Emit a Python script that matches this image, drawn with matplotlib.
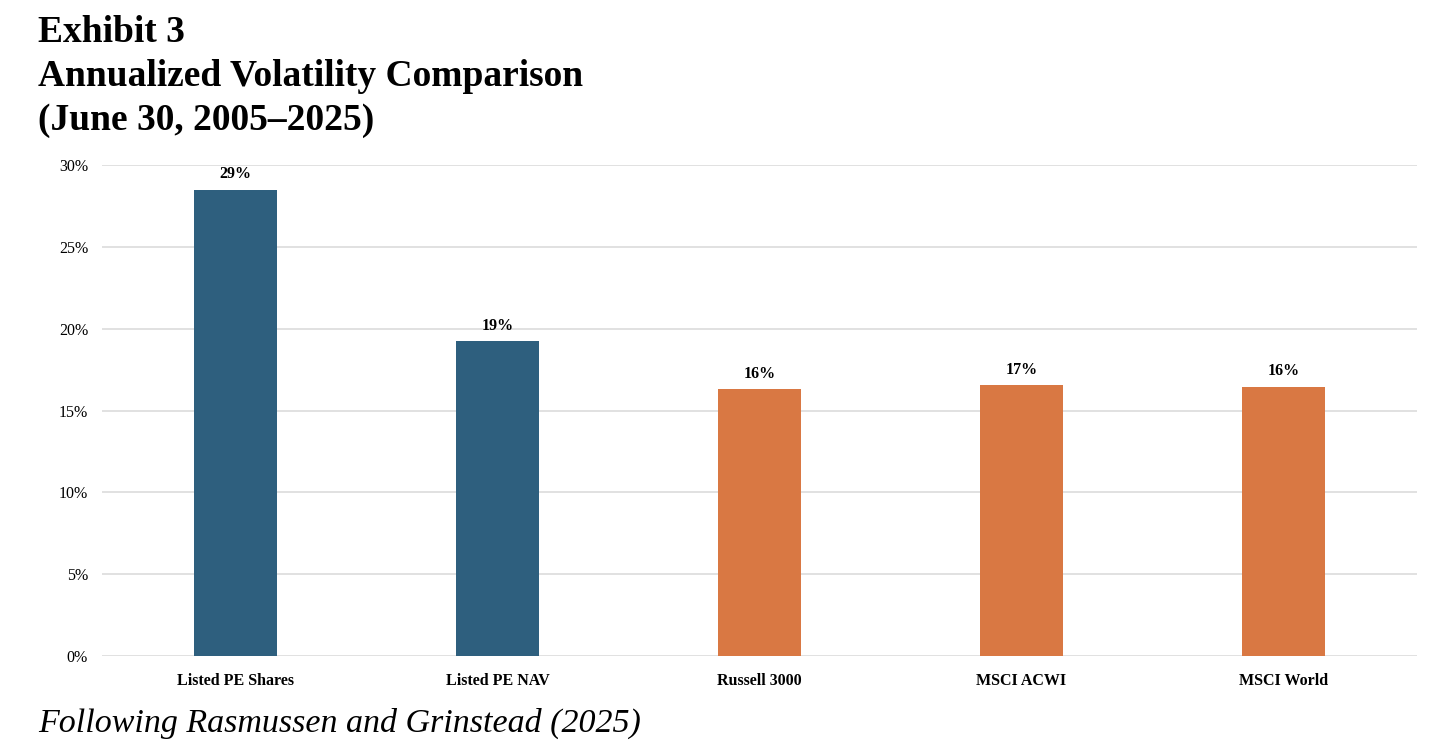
import matplotlib
matplotlib.use("Agg")
import matplotlib.pyplot as plt
from matplotlib.ticker import FuncFormatter, MultipleLocator

categories = ["Listed PE Shares", "Listed PE NAV", "Russell 3000", "MSCI ACWI", "MSCI World"]
values = [28.5, 19.25, 16.3, 16.55, 16.45]
labels = ["29%", "19%", "16%", "17%", "16%"]
colors = ["#2E5F7E", "#2E5F7E", "#D97843", "#D97843", "#D97843"]

title_lines = ["Exhibit 3", "Annualized Volatility Comparison", "(June 30, 2005\u20132025)"]
caption = "Following Rasmussen and Grinstead (2025)"

plt.rcParams['font.family'] = ['Liberation Serif', 'DejaVu Serif']

fig = plt.figure(figsize=(14.56, 7.40), dpi=100)
ax = fig.add_axes([102/1456, 1-656/740, (1417-102)/1456, (656-165)/740])

x = list(range(len(categories)))
ax.bar(x, values, width=0.315, color=colors, zorder=3)
for xi, v, lab in zip(x, values, labels):
    ax.text(xi, v + 0.45, lab, ha='center', va='bottom', fontsize=11.5, fontweight='bold', zorder=4)

ax.set_xlim(-0.51, 4.51)
ax.set_ylim(0, 30)
ax.yaxis.set_major_locator(MultipleLocator(5))
ax.yaxis.set_major_formatter(FuncFormatter(lambda v, p: f"{v:.0f}%"))
ax.set_xticks(x)
ax.set_xticklabels(categories, fontsize=11.5, fontweight='bold')
ax.tick_params(axis='y', labelsize=11.5, length=0, pad=10)
ax.tick_params(axis='x', length=0, pad=12)
ax.grid(axis='y', color='#dcdcdc', linewidth=1.2, zorder=0)
for s in ax.spines.values():
    s.set_visible(False)

ys = [33, 77, 121]
for t, yy in zip(title_lines, ys):
    fig.text(38/1456, 1-yy/740, t, ha='left', va='center', fontsize=27, fontweight='bold')

fig.text(38/1456, 1-723/740, caption, ha='left', va='center', fontsize=24.5, fontstyle='italic')

fig.savefig("out.png", dpi=100)
